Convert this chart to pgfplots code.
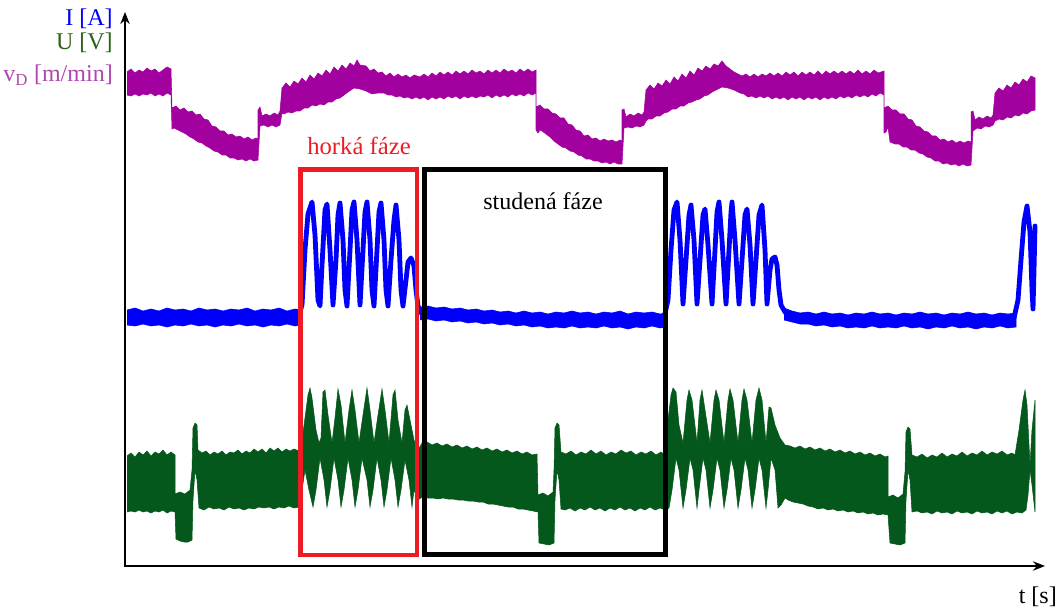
\documentclass[border=0pt]{standalone}
\usepackage{pgfplots}
\pgfplotsset{compat=1.18}
\usepackage{fontspec}
\setmainfont{Liberation Serif}
\usetikzlibrary{arrows.meta}
\definecolor{vdcol}{RGB}{163,0,160}
\definecolor{vdtext}{RGB}{175,70,175}
\definecolor{icol}{RGB}{0,0,250}
\definecolor{ucol}{RGB}{5,88,28}
\definecolor{utext}{RGB}{40,100,20}
\definecolor{hotred}{RGB}{237,28,36}
\begin{document}
\begin{tikzpicture}
\begin{axis}[
  width=796.5pt, height=456.75pt, scale only axis,
  xmin=0, xmax=1062, ymin=0, ymax=609, y dir=reverse,
  hide axis, clip=false,
]
% bounding box
\addplot[draw=none] coordinates {(0,0) (1062,609)};
% purple v_D band
\addplot[fill=vdcol, draw=vdcol, line width=0.4pt] coordinates {
(127,72)(131,69)(135,73)(139,70)(143,72)(147,68)(151,71)(155,69)(159,73)(163,70)(167,67)(171,69)
(172,108)(176,106)(180,110)(184,108)(188,112)(192,111)(196,115)(200,114)(204,119)(208,120)(212,126)(216,127)(220,131)(224,131)(228,135)(232,134)(236,137)(240,136)(244,139)(248,137)(252,140)(256,138)(258,139)
(258,110)(260,107)(262,116)(266,114)(270,116)(274,113)(278,115)(280,111)
(282,88)(286,83)(290,87)(294,81)(298,84)(302,78)(306,82)(310,75)(314,79)(318,73)(322,76)(326,70)(330,74)(334,67)(338,71)(342,65)(346,69)(350,63)(354,66)(357,60)(360,65)
(366,66)(370,71)(374,69)(378,73)(382,72)(386,76)(390,73)(394,77)(398,74)(402,77)(406,75)(410,78)(414,75)(420,77)
(424,74)(428,77)(432,73)(436,76)(440,72)(444,75)(448,72)(452,75)(456,71)(460,74)(464,71)(468,74)(472,70)(476,73)(480,71)(484,74)(488,70)(492,73)(496,70)(500,73)(504,69)(508,72)(512,70)(516,73)(520,69)(524,72)(528,69)(532,72)(536,70)
(536,107)(540,105)(544,109)(548,109)(552,113)(556,114)(560,118)(564,118)(568,124)(572,125)(576,130)(580,131)(584,136)(588,135)(592,139)(596,138)(600,141)(604,139)(608,141)(612,140)(616,142)(620,140)(622,141)
(622,110)(624,109)(626,117)(630,114)(634,116)(638,113)(642,115)(644,112)
(646,90)(650,85)(654,89)(658,83)(662,86)(666,80)(670,84)(674,77)(678,81)(682,74)(686,78)(690,71)(694,75)(698,68)(702,71)(706,66)(710,69)(714,64)(718,66)(722,61)(726,66)
(730,69)(734,72)(738,74)(742,76)(746,74)(750,77)(754,74)(758,77)(762,74)(766,76)(770,73)(774,76)(778,73)(782,76)(786,72)(790,75)(794,72)(798,76)(802,72)(806,75)(810,72)(814,75)(818,71)(822,75)(826,71)(830,74)(834,71)(838,74)(842,71)(846,74)(850,71)(854,74)(858,70)(862,74)(866,71)(870,74)(874,70)(878,73)(884,71)
(884,108)(888,106)(892,110)(896,110)(900,114)(904,114)(908,119)(912,120)(916,126)(920,127)(924,131)(928,132)(932,136)(936,136)(940,140)(944,139)(948,142)(952,140)(956,143)(960,141)(964,143)(968,141)(971,142)
(971,112)(973,111)(975,120)(979,117)(983,119)(987,116)(991,118)(993,115)
(995,93)(999,88)(1003,91)(1007,85)(1011,88)(1015,82)(1019,85)(1023,79)(1027,82)(1031,76)(1035,78)
(1035,110)(1031,111)(1027,114)(1023,113)(1019,116)(1015,115)(1011,118)(1007,117)(1003,120)(999,119)(995,121)(993,125)(989,127)(985,126)(981,129)(977,128)(973,131)
(971,165)(967,166)(963,164)(959,166)(955,164)(951,165)(947,163)(943,164)(939,161)(935,161)(931,158)(927,157)(923,154)(919,153)(915,150)(911,150)(907,147)(903,147)(899,144)(895,144)(890,142)(888,127)(886,132)(884,133)
(884,95)(880,93)(876,96)(872,94)(868,97)(864,95)(860,97)(856,95)(852,98)(848,96)(844,98)(840,96)(836,99)(832,97)(828,99)(824,97)(820,100)(816,97)(812,99)(808,97)(804,100)(800,97)(796,99)(792,97)(788,100)(784,97)(780,99)(776,97)(772,99)(768,96)(764,98)(760,96)(756,98)(752,96)(748,97)(744,94)(740,93)(734,90)(728,88)(722,87)(716,90)(712,92)(708,95)(704,96)(700,99)(696,100)(692,102)(688,103)(684,106)(680,106)(676,109)(672,109)(668,112)(664,113)(660,116)(656,116)(652,119)(648,119)(646,121)
(644,125)(640,127)(636,126)(632,128)(628,127)(624,128)
(622,164)(618,164)(614,162)(610,164)(606,162)(602,163)(598,161)(594,161)(590,159)(586,159)(582,156)(578,155)(574,152)(570,151)(566,148)(562,147)(558,144)(554,141)(550,137)(546,134)(542,131)(540,130)(538,133)(536,130)
(536,93)(532,95)(528,93)(524,96)(520,94)(516,96)(512,94)(508,97)(504,95)(500,97)(496,95)(492,98)(488,95)(484,97)(480,96)(476,98)(472,96)(468,98)(464,96)(460,99)(456,96)(452,98)(448,96)(444,99)(440,97)(436,99)(432,97)(428,100)(424,97)(420,99)(416,97)(412,99)(408,97)(404,98)(400,96)(396,97)(392,95)(388,95)(384,93)(378,93)(372,94)(366,91)(360,89)(354,88)(348,92)(344,95)(340,98)(336,99)(332,102)(328,102)(324,105)(320,104)(316,106)(312,105)(308,108)(304,108)(300,111)(296,111)(292,113)(288,112)(284,114)(282,113)
(280,125)(276,127)(272,125)(268,127)(264,125)(260,126)
(258,160)(254,161)(250,159)(246,161)(242,159)(238,160)(234,158)(230,158)(226,155)(222,155)(218,152)(214,151)(210,148)(206,146)(202,143)(198,142)(194,139)(190,137)(186,134)(182,132)(178,130)(174,128)(172,129)
(171,95)(167,93)(163,96)(159,94)(155,96)(151,93)(147,95)(143,94)(139,96)(135,94)(131,96)(127,95)
};
% blue I baselines
\addplot[fill=icol, draw=icol, line width=0.4pt] coordinates {
(127,310)(135,308)(143,311)(151,309)(159,311)(167,308)(175,310)(183,309)(191,311)(199,308)(207,310)(215,309)(223,311)(231,309)(239,310)(247,308)(255,311)(263,309)(271,310)(279,308)(287,311)(295,309)(302,310)
(302,325)(295,326)(287,324)(279,326)(271,325)(263,327)(255,325)(247,326)(239,324)(231,326)(223,325)(215,327)(207,325)(199,326)(191,324)(183,326)(175,325)(167,327)(159,325)(151,326)(143,324)(135,326)(127,325)
};
\addplot[fill=icol, draw=icol, line width=0.4pt] coordinates {
(420,307)(428,306)(436,308)(444,307)(452,309)(460,308)(468,310)(476,309)(484,311)(492,310)(500,312)(508,311)(516,313)(524,311)(532,313)(540,312)(548,314)(556,312)(564,313)(572,311)(580,313)(588,312)(596,314)(604,312)(612,313)(620,311)(628,314)(636,312)(644,313)(652,312)(660,314)(666,313)
(666,327)(660,328)(652,326)(644,328)(636,327)(628,329)(620,327)(612,328)(604,326)(596,328)(588,327)(580,328)(572,326)(564,328)(556,327)(548,328)(540,326)(532,327)(524,325)(516,326)(508,324)(500,325)(492,323)(484,324)(476,322)(468,323)(460,321)(452,322)(444,320)(436,321)(428,319)(420,320)
};
\addplot[fill=icol, draw=icol, line width=0.4pt] coordinates {
(784,308)(792,311)(800,313)(808,312)(816,314)(824,312)(832,314)(840,313)(848,315)(856,313)(864,314)(872,312)(880,314)(888,313)(896,315)(904,313)(912,314)(920,312)(928,314)(936,313)(944,315)(952,313)(960,314)(968,312)(976,314)(984,313)(992,315)(1000,313)(1008,314)(1016,313)
(1016,327)(1008,328)(1000,326)(992,328)(984,327)(976,329)(968,327)(960,328)(952,326)(944,328)(936,327)(928,329)(920,327)(912,328)(904,326)(896,328)(888,327)(880,328)(872,326)(864,328)(856,327)(848,328)(840,326)(832,327)(824,325)(816,326)(808,324)(800,324)(792,322)(784,320)
};
% blue I oscillations
\addplot[icol, line width=3.6pt, line join=round, line cap=round] coordinates {
(298,318)(302,305)(305,250)(308,214)(312,202)(315,235)(318,300)(320,306)(322,265)(325,210)(327,204)(330,250)(333,305)(336,260)(338,215)(340,203)(343,240)(345,290)(347,306)(350,250)(352,210)(354,202)(357,240)(360,305)(363,250)(365,212)(367,202)(370,240)(372,290)(374,306)(377,250)(379,212)(381,203)(384,240)(386,290)(388,306)(391,260)(394,220)(396,205)(399,240)(401,290)(403,306)(406,280)(408,262)(411,258)(414,266)(416,290)(418,306)(421,313)
};
\addplot[icol, line width=3.6pt, line join=round, line cap=round] coordinates {
(664,318)(668,300)(671,250)(674,210)(677,202)(680,240)(683,304)(686,260)(689,215)(691,205)(694,240)(697,304)(700,260)(703,215)(705,209)(708,245)(712,304)(715,250)(717,212)(719,202)(722,240)(726,304)(729,250)(731,212)(732,202)(735,240)(739,304)(742,260)(745,215)(747,209)(750,245)(753,304)(756,260)(759,215)(762,205)(765,250)(767,304)(770,270)(772,259)(775,257)(777,265)(779,290)(781,305)(785,312)(790,316)
};
\addplot[icol, line width=3.6pt, line join=round, line cap=round] coordinates {
(1014,318)(1018,300)(1021,260)(1024,222)(1027,206)(1030,232)(1032,290)(1033,309)(1034,270)(1035,226)
};
% green U band
\addplot[fill=ucol, draw=ucol, line width=0.4pt] coordinates {
(127,456)(131,453)(135,457)(139,452)(143,455)(147,451)(151,456)(155,452)(159,454)(163,450)(167,455)(171,452)(175,455)
(175,494)(180,492)(185,494)(190,490)(192,470)(193,428)(195,423)(197,425)(198,450)
(202,453)(206,451)(210,455)(214,452)(218,454)(222,451)(226,455)(230,452)(234,453)(238,450)(242,454)(246,451)(250,453)(254,449)(258,452)(262,449)(266,453)(270,448)(274,451)(278,448)(282,452)(286,449)(290,451)(294,449)(299,451)
(302,440)(305,418)(308,395)(310,388)(312,398)(316,430)(319,443)(321,438)(323,392)(325,390)(328,415)(332,443)(335,418)(338,389)(341,405)(345,443)(349,410)(352,390)(355,410)(359,443)(363,415)(367,388)(370,410)(374,443)(378,415)(382,389)(385,410)(389,443)(393,395)(395,390)(398,420)(402,443)(405,410)(407,405)(410,420)(414,440)(418,450)
(422,443)(427,442)(432,445)(437,443)(442,446)(447,444)(452,447)(457,445)(462,448)(467,446)(472,449)(477,447)(482,450)(487,448)(492,451)(497,449)(502,452)(507,450)(512,453)(517,451)(522,454)(527,452)(532,455)(537,454)
(538,495)(543,493)(548,496)(553,492)(554,470)(555,428)(557,423)(559,425)(561,452)
(566,454)(571,451)(576,455)(581,452)(586,454)(591,450)(596,454)(601,451)(606,455)(611,452)(616,454)(621,450)(626,453)(631,451)(636,455)(641,452)(646,454)(651,451)(656,455)(661,452)(665,455)
(668,420)(671,395)(673,388)(676,392)(679,425)(683,443)(687,400)(689,390)(692,400)(697,443)(700,400)(702,390)(705,410)(710,443)(714,400)(716,390)(719,400)(724,443)(728,400)(730,389)(733,400)(738,443)(742,400)(744,389)(747,400)(752,443)(756,400)(759,388)(762,400)(766,443)(769,407)(771,408)(775,425)(780,438)(785,445)
(790,446)(795,448)(800,446)(805,449)(810,447)(815,450)(820,448)(825,451)(830,449)(835,452)(840,450)(845,453)(850,451)(855,454)(860,452)(865,455)(870,453)(875,456)(880,454)(885,457)(888,456)
(888,497)(893,495)(898,498)(903,494)(905,472)(906,432)(908,427)(910,429)(912,455)
(917,457)(922,454)(927,458)(932,455)(937,457)(942,453)(947,457)(952,454)(957,456)(962,452)(967,456)(972,453)(977,455)(982,451)(987,455)(992,452)(997,454)(1002,451)(1007,455)(1012,453)(1015,455)
(1019,430)(1023,400)(1025,390)(1027,405)(1030,465)(1032,430)(1035,400)
(1035,512)(1032,485)(1030,470)(1028,495)(1026,510)(1022,513)(1017,512)(1012,514)(1007,511)(1002,513)(997,511)(992,514)(987,512)(982,513)(977,511)(972,514)(967,512)(962,513)(957,511)(952,514)(947,512)(942,513)(937,511)(932,514)(927,512)(922,513)(917,511)(912,512)(910,480)(908,470)(906,500)(905,543)(900,545)(895,544)(890,543)(888,515)
(883,514)(878,515)(873,513)(868,514)(863,512)(858,513)(853,511)(848,512)(843,510)(838,511)(833,509)(828,510)(823,508)(818,509)(813,507)(808,506)(803,504)(798,503)(793,502)(788,500)(785,498)
(781,505)(778,508)(775,470)(771,458)(768,490)(766,508)(762,470)(759,458)(755,490)(752,508)(748,470)(745,458)(741,490)(738,508)(734,470)(731,458)(727,490)(724,508)(720,470)(717,458)(713,490)(710,508)(706,470)(703,458)(699,490)(697,508)(693,470)(690,458)(686,490)(683,508)(679,470)(676,458)(672,490)(669,508)(665,510)
(660,508)(655,510)(650,507)(645,510)(640,508)(635,511)(630,508)(625,510)(620,507)(615,510)(610,508)(605,511)(600,508)(595,510)(590,507)(585,510)(580,508)(575,511)(570,508)(565,510)(561,509)(559,480)(557,470)(555,500)(554,543)(549,545)(544,544)(539,543)(538,512)
(533,511)(528,510)(523,509)(518,509)(513,507)(508,507)(503,506)(498,505)(493,504)(488,504)(483,502)(478,502)(473,501)(468,501)(463,500)(458,500)(453,499)(448,499)(443,498)(438,499)(433,498)(428,498)(422,497)(418,500)
(414,490)(412,507)(409,480)(405,460)(401,490)(398,507)(395,480)(391,458)(387,490)(384,507)(381,480)(377,458)(373,490)(370,507)(367,480)(362,458)(358,490)(355,507)(352,480)(348,458)(344,490)(341,507)(338,480)(334,458)(330,490)(327,507)(324,480)(320,458)(316,490)(313,507)(309,490)(305,470)(302,490)(299,507)
(294,508)(289,506)(284,508)(279,507)(274,509)(269,507)(264,508)(259,507)(254,509)(249,508)(244,510)(239,508)(234,509)(229,507)(224,510)(219,508)(214,509)(209,507)(204,510)(199,508)(197,480)(195,470)(193,500)(192,540)(188,542)(184,542)(180,541)(176,539)(175,512)(171,511)(167,513)(163,510)(159,512)(155,511)(151,513)(147,511)(143,512)(139,510)(135,512)(131,511)(127,512)
};
% phase boxes
\addplot[hotred, line width=3.6pt, line join=miter] coordinates {(300.5,169.5)(417,169.5)(417,555)(300.5,555)(300.5,169.5)(417,169.5)};
\addplot[black, line width=3.6pt, line join=miter] coordinates {(424.5,169.5)(665.5,169.5)(665.5,554.5)(424.5,554.5)(424.5,169.5)(665.5,169.5)};
% axes
\addplot[black, line width=1.6pt, -{Stealth[length=9pt,width=7pt]}] coordinates {(125,567)(125,12)};
\addplot[black, line width=1.6pt, -{Stealth[length=9pt,width=7pt]}] coordinates {(124,566)(1045,566)};
% texts
\node[anchor=base east, text=icol, font=\fontsize{18}{20}\selectfont, inner sep=0pt] at (axis cs:113,26) {I [A]};
\node[anchor=base east, text=utext, font=\fontsize{18}{20}\selectfont, inner sep=0pt] at (axis cs:113,50) {U [V]};
\node[anchor=base east, text=vdtext, font=\fontsize{18}{20}\selectfont, inner sep=0pt] at (axis cs:113,82) {v\textsubscript{D} [m/min]};
\node[anchor=base, text=hotred, font=\fontsize{18.5}{20}\selectfont, inner sep=0pt] at (axis cs:359,155) {horká fáze};
\node[anchor=base, text=black, font=\fontsize{18}{20}\selectfont, inner sep=0pt] at (axis cs:543,210) {studená fáze};
\node[anchor=base east, text=black, font=\fontsize{18}{20}\selectfont, inner sep=0pt] at (axis cs:1057,603) {t [s]};
\end{axis}
\end{tikzpicture}
\end{document}
